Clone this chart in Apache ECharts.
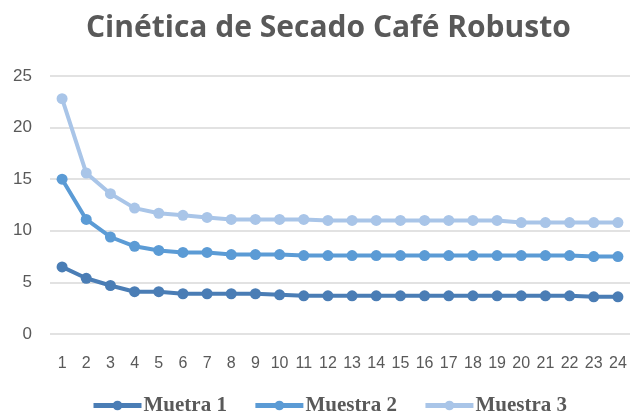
<!DOCTYPE html>
<html>
<head>
<meta charset="utf-8">
<script src="https://cdn.jsdelivr.net/npm/echarts@6/dist/echarts.min.js"></script>
<style>
  html, body { margin: 0; padding: 0; background: #fff; }
  #chart { width: 630px; height: 414px; }
</style>
</head>
<body>
<div id="chart"></div>
<script>
var categories = ["1","2","3","4","5","6","7","8","9","10","11","12","13","14","15","16","17","18","19","20","21","22","23","24"];
var muestra1 = [6.5, 5.4, 4.7, 4.1, 4.1, 3.9, 3.9, 3.9, 3.9, 3.8, 3.7, 3.7, 3.7, 3.7, 3.7, 3.7, 3.7, 3.7, 3.7, 3.7, 3.7, 3.7, 3.6, 3.6];
var muestra2 = [15.0, 11.1, 9.4, 8.5, 8.1, 7.9, 7.9, 7.7, 7.7, 7.7, 7.6, 7.6, 7.6, 7.6, 7.6, 7.6, 7.6, 7.6, 7.6, 7.6, 7.6, 7.6, 7.5, 7.5];
var muestra3 = [22.8, 15.6, 13.6, 12.2, 11.7, 11.5, 11.3, 11.1, 11.1, 11.1, 11.1, 11.0, 11.0, 11.0, 11.0, 11.0, 11.0, 11.0, 11.0, 10.8, 10.8, 10.8, 10.8, 10.8];
var seriesNames = ["Muetra 1", "Muestra 2", "Muestra 3"];

var chart = echarts.init(document.getElementById("chart"));

function lineSeries(name, data, color) {
  return {
    name: name,
    type: "line",
    data: data,
    symbol: "circle",
    symbolSize: 11,
    lineStyle: { width: 4, color: color },
    itemStyle: { color: color },
    animation: false
  };
}

chart.setOption({
  color: ["#4a7db5", "#5b9bd5", "#a9c5e8"],
  title: {
    text: "Cinética de Secado Café Robusto",
    left: 81,
    top: 8,
    textStyle: { fontFamily: "Open Sans", fontWeight: "bold", fontSize: 30, color: "#595959" }
  },
  grid: { left: 50, right: 0, top: 76, bottom: 80 },
  xAxis: {
    type: "category",
    data: categories,
    axisLine: { show: false },
    axisTick: { show: false },
    axisLabel: { color: "#595959", fontSize: 16, fontFamily: "Liberation Sans", margin: 22 }
  },
  yAxis: {
    type: "value",
    min: 0,
    max: 25,
    interval: 5,
    axisLine: { show: false },
    axisTick: { show: false },
    splitLine: { lineStyle: { color: "#d9d9d9", width: 1.5 } },
    axisLabel: { color: "#595959", fontSize: 17, fontFamily: "Liberation Sans", margin: 18 }
  },
  legend: {
    bottom: -7,
    left: 86,
    itemWidth: 48,
    itemHeight: 12,
    itemGap: 26,
    lineStyle: { width: 5 },
    textStyle: { fontFamily: "Liberation Serif", fontWeight: "bold", fontSize: 21, color: "#595959", padding: [0, 0, 0, -3] },
    data: seriesNames
  },
  series: [
    lineSeries(seriesNames[0], muestra1, "#4a7db5"),
    lineSeries(seriesNames[1], muestra2, "#5b9bd5"),
    lineSeries(seriesNames[2], muestra3, "#a9c5e8")
  ]
});
</script>
</body>
</html>
